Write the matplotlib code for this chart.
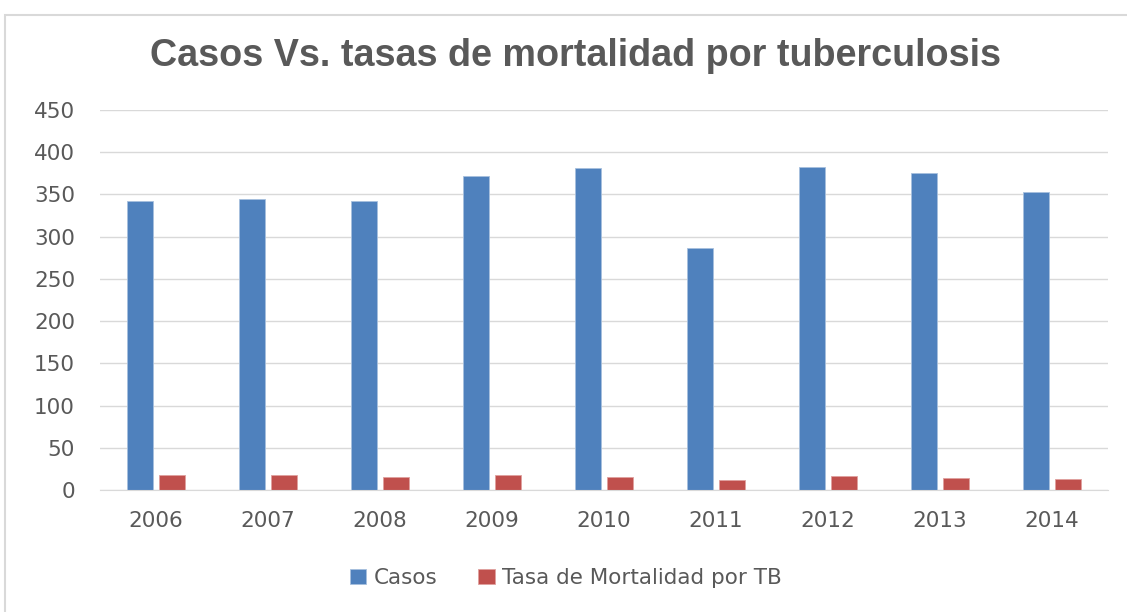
import matplotlib.pyplot as plt
import numpy as np
from matplotlib.patches import Rectangle

# Data
years = ["2006", "2007", "2008", "2009", "2010", "2011", "2012", "2013", "2014"]
casos = [342, 345, 342, 372, 381, 286, 383, 375, 353]
tasa = [17.4, 17.4, 15.8, 17.8, 15.8, 11.4, 16.2, 14.6, 13.0]

blue = "#4f81bd"
red = "#c0504d"
gray_text = "#595959"

plt.rcParams["font.family"] = ["DejaVu Sans"]

fig = plt.figure(figsize=(11.27, 6.12), dpi=100)
ax = fig.add_axes([100 / 1127, 1 - 490 / 612, 1008 / 1127, 380 / 612])

# outer chart frame
fig.patches.append(Rectangle((5 / 1127, -0.01), 1.2, 1 - 15 / 612 + 0.01,
                             transform=fig.transFigure, fill=False,
                             edgecolor="#d9d9d9", linewidth=1.5))

x = np.arange(len(years))
w = 0.225
ax.bar(x - w / 2 - 0.03, casos, w, color=blue, edgecolor="#a7c0de", linewidth=0.6, label="Casos")
ax.bar(x + w / 2 + 0.03, tasa, w, color=red, edgecolor="#dfa09e", linewidth=0.6,
       label="Tasa de Mortalidad por TB")

ax.set_xlim(-0.5, len(years) - 0.5)
ax.set_ylim(0, 450)
ax.set_yticks(range(0, 451, 50))
ax.set_xticks(x)
ax.set_xticklabels(years)
ax.yaxis.grid(True, color="#d9d9d9", linewidth=1)
ax.set_axisbelow(True)
for s in ["top", "right", "left"]:
    ax.spines[s].set_visible(False)
ax.spines["bottom"].set_color("#d9d9d9")
ax.tick_params(length=0, labelsize=15.5, colors=gray_text)
ax.tick_params(axis="x", pad=15)
ax.tick_params(axis="y", pad=18)

fig.text(0.511, 1 - 56 / 612, "Casos Vs. tasas de mortalidad por tuberculosis",
         ha="center", va="center", fontsize=27.2, fontweight="bold", color=gray_text,
         family="Liberation Sans")

leg = fig.legend(loc="center", bbox_to_anchor=(566 / 1127, 1 - 578 / 612), ncol=2,
                 frameon=False, fontsize=15.5, handlelength=0.75, handleheight=0.7,
                 handletextpad=0.35, columnspacing=1.9)
for t in leg.get_texts():
    t.set_color(gray_text)

fig.savefig("out.png", dpi=100)
